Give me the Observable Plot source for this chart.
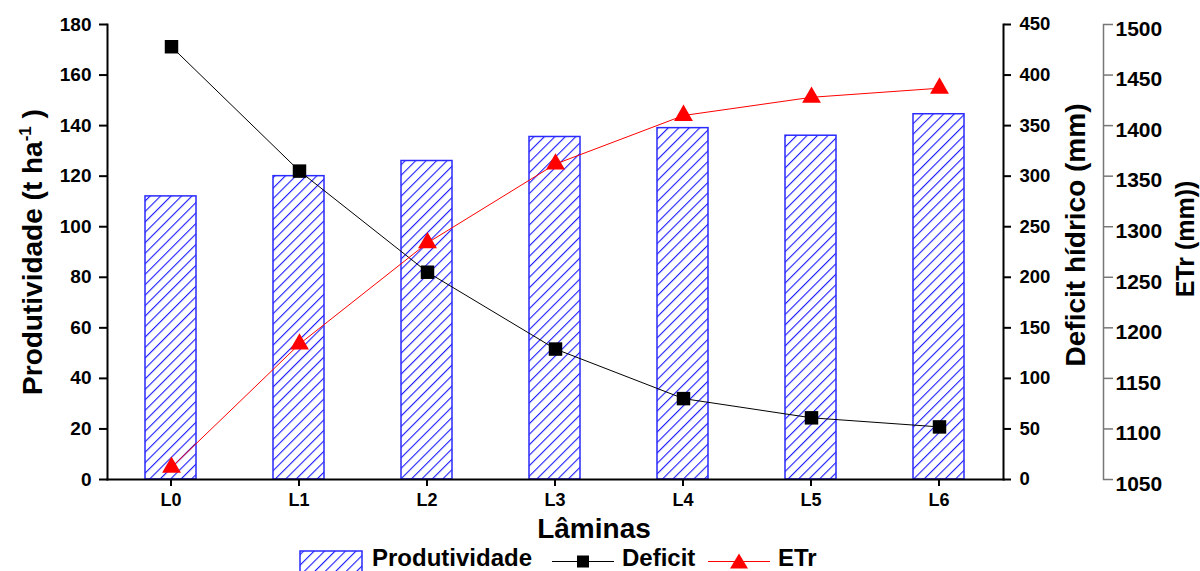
<!DOCTYPE html>
<html><head><meta charset="utf-8">
<script src="https://cdn.jsdelivr.net/npm/d3@7"></script>
<script src="https://cdn.jsdelivr.net/npm/@observablehq/plot@0.6"></script>
<style>
body{margin:0;background:#fff;}
#chart{position:relative;width:1200px;height:571px;overflow:hidden;font-family:"Liberation Sans",Arial,sans-serif;font-weight:bold;}
#chart svg{position:absolute;left:0;top:0;}
</style></head><body><div id="chart"></div>
<script>
// ---- data ----
const laminas = ["L0", "L1", "L2", "L3", "L4", "L5", "L6"];
const produtividade = [112, 120, 126, 135.5, 139, 136, 144.5];
const deficit = [428, 305, 205, 129, 80, 61, 52];
const etr = [1062, 1184, 1284, 1362, 1410, 1428, 1437];
const prodTicks = [0, 20, 40, 60, 80, 100, 120, 140, 160, 180];
const deficitTicks = [0, 50, 100, 150, 200, 250, 300, 350, 400, 450];
const etrTicks = [1050, 1100, 1150, 1200, 1250, 1300, 1350, 1400, 1450, 1500];

const rows = laminas.map((l, i) => ({lamina: l, prod: produtividade[i], deficit: deficit[i], etr: etr[i]}));

const W = 1200, H = 540, ML = 107, MT = 24, MB = 61;
const FONT = '"Liberation Sans", Arial, sans-serif';
const style = {fontFamily: FONT, fontWeight: "bold", fontSize: "18px", background: "transparent", color: "black", overflow: "visible"};
const xBase = {domain: laminas, paddingInner: 0.6, paddingOuter: 0.3, range: [107, 1003]};
const BLUE = "#2a2aff";
const fmt = d => String(d);

function addHatch(svgSel, id) {
  const p = svgSel.insert("defs", ":first-child").append("pattern").attr("id", id)
    .attr("patternUnits", "userSpaceOnUse").attr("width", 7.4).attr("height", 7.4)
    .attr("patternTransform", "rotate(45)");
  p.append("rect").attr("width", 7.4).attr("height", 7.4).attr("fill", "white");
  p.append("rect").attr("x", 0).attr("width", 1.1).attr("height", 7.4).attr("fill", "#1a1aff");
}

const chart = document.getElementById("chart");

// base layer: bars + left axis + x axis
const base = Plot.plot({
  width: W, height: H, marginLeft: ML, marginRight: 197, marginTop: MT, marginBottom: MB, style,
  x: {...xBase},
  y: {domain: [0, 180]},
  marks: [
    Plot.barY(rows, {x: "lamina", y: "prod", fill: "url(#hatch)", stroke: BLUE, strokeWidth: 1.5}),
    Plot.axisY({ticks: prodTicks, tickSize: 8, tickPadding: 8, tickFormat: fmt, strokeWidth: 2, fontSize: 19, label: null}),
    Plot.axisX({tickSize: 7, tickPadding: 7, strokeWidth: 2, label: null}),
    Plot.frame({anchor: "left", strokeWidth: 2}),
    Plot.frame({anchor: "bottom", strokeWidth: 2})
  ]
});
addHatch(d3.select(base), "hatch");
d3.select(base).append("text")
  .attr("transform", "translate(42,252) rotate(-90)").attr("text-anchor", "middle")
  .attr("font-size", 28).attr("font-weight", "bold").attr("font-family", FONT)
  .call(t => {
    t.append("tspan").text("Produtividade (t ha");
    t.append("tspan").attr("font-size", 17).attr("dy", -11).text("-1");
    t.append("tspan").attr("dy", 11).text(" )");
  });
d3.select(base).append("text")
  .attr("x", 594).attr("y", 538).attr("text-anchor", "middle")
  .attr("font-size", 28).attr("font-weight", "bold").attr("font-family", FONT)
  .text("Lâminas");
chart.appendChild(base);

// deficit layer
const defL = Plot.plot({
  width: W, height: H, marginLeft: ML, marginRight: 197, marginTop: MT, marginBottom: MB, style,
  x: {...xBase, axis: null},
  y: {domain: [0, 450]},
  marks: [
    Plot.line(rows, {x: "lamina", y: "deficit", stroke: "black", strokeWidth: 1}),
    Plot.dot(rows, {x: "lamina", y: "deficit", symbol: "square", r: 7.6, fill: "black", stroke: "none"}),
    Plot.axisY({anchor: "right", ticks: deficitTicks, tickSize: 7, tickPadding: 9, tickFormat: fmt, strokeWidth: 2, fontSize: 18.5, label: null}),
    Plot.frame({anchor: "right", strokeWidth: 2})
  ]
});
d3.select(defL).append("text")
  .attr("transform", "translate(1085,235) rotate(-90)").attr("text-anchor", "middle")
  .attr("font-size", 28).attr("font-weight", "bold").attr("font-family", FONT)
  .text("Deficit hídrico (mm)");
chart.appendChild(defL);

// ETr layer
const etrL = Plot.plot({
  width: W, height: H, marginLeft: ML, marginRight: 97, marginTop: MT, marginBottom: MB, style,
  x: {...xBase, axis: null},
  y: {domain: [1050, 1500]},
  marks: [
    Plot.line(rows, {x: "lamina", y: "etr", stroke: "red", strokeWidth: 1}),
    Plot.dot(rows, {x: "lamina", y: "etr", symbol: "triangle", r: 7, fill: "red", stroke: "none"}),
    Plot.axisY({anchor: "right", ticks: etrTicks, tickSize: 9, tickPadding: 3, tickFormat: () => "", stroke: "#777", strokeWidth: 1.5, label: null}),
    Plot.axisY({anchor: "right", ticks: etrTicks, tickSize: 0, tickPadding: 12, tickFormat: fmt, fontSize: 21, dy: 4.5, label: null}),
    Plot.frame({anchor: "right", stroke: "#777", strokeWidth: 1.5})
  ]
});
d3.select(etrL).append("text")
  .attr("transform", "translate(1194,239) rotate(-90)").attr("text-anchor", "middle")
  .attr("font-size", 25).attr("font-weight", "bold").attr("font-family", FONT)
  .text("ETr (mm))");
chart.appendChild(etrL);

// legend
const leg = d3.select(chart).append("svg").attr("width", 1200).attr("height", 31)
  .style("top", "540px").style("left", "0px");
addHatch(leg, "hatchL");
leg.append("rect").attr("x", 300).attr("y", 11).attr("width", 62).attr("height", 22)
  .attr("fill", "url(#hatchL)").attr("stroke", BLUE).attr("stroke-width", 1.5);
const lt = (x, s) => leg.append("text").attr("x", x).attr("y", 26).attr("font-size", 24)
  .attr("font-weight", "bold").attr("font-family", FONT).text(s);
lt(372, "Produtividade");
leg.append("line").attr("x1", 552).attr("x2", 614).attr("y1", 21.5).attr("y2", 21.5).attr("stroke", "black");
leg.append("rect").attr("x", 577).attr("y", 15.5).attr("width", 12).attr("height", 12).attr("fill", "black");
lt(622, "Deficit");
leg.append("line").attr("x1", 708).attr("x2", 770).attr("y1", 21.5).attr("y2", 21.5).attr("stroke", "red");
leg.append("path").attr("d", "M730,28.5 L748,28.5 L739,13.5 Z").attr("fill", "red");
lt(778, "ETr");
</script></body></html>
